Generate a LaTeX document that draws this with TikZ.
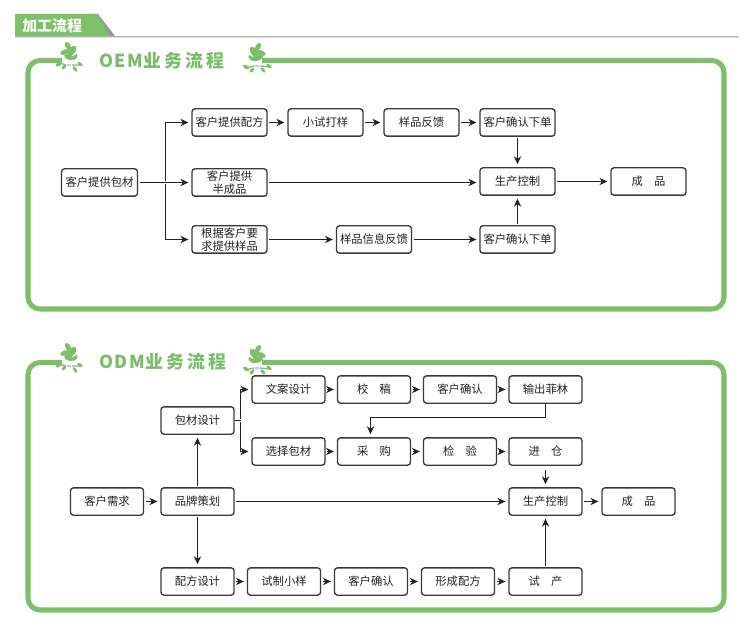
\documentclass[tikz,border=0pt]{standalone}
\usepackage{fontspec}
\setmainfont{Noto Sans CJK SC}
\usetikzlibrary{arrows.meta}
\definecolor{gr}{RGB}{125,192,105}
\definecolor{grt}{RGB}{120,190,105}
\definecolor{ink}{RGB}{35,35,35}
\tikzset{
 box/.style={draw=ink!90,line width=1pt,rounded corners=2.2pt,fill=white,minimum width=#1*0.75pt,minimum height=20.5pt,inner sep=0pt,align=center,font=\fontsize{8.5pt}{9.6pt}\selectfont,text=ink},
 box/.default=74,
 conn/.style={draw=ink,line width=0.85pt},
 arr/.style={conn,-{Stealth[length=6pt,width=5.5pt]},shorten >=2.2pt,shorten <=1pt},
 frame/.style={draw=gr,line width=3.8pt,rounded corners=9pt},
 ttl/.style={font=\fontsize{13.4pt}{14pt}\selectfont\bfseries,text=grt,inner sep=0pt},
 blob/.style={fill=gr,draw=none},
 twig/.style={draw=gr,line width=1pt},
 leaf/.pic={
  \fill[blob] (-1,-14) ellipse[x radius=4.5,y radius=2.6,rotate=-60];
  \fill[blob] (3,-9) ellipse[x radius=6,y radius=3.2,rotate=55];
  \fill[blob] (-4,-8) ellipse[x radius=5,y radius=2.6,rotate=20];
  \fill[blob] (0,-3) ellipse[x radius=5,y radius=2.8,rotate=-20];
  \fill[blob] (6,-3) ellipse[x radius=3.5,y radius=1.8,rotate=50];
  \fill[blob] (-10,4) ellipse[x radius=3.6,y radius=1.9,rotate=35];
  \fill[blob] (-5,7) ellipse[x radius=2.8,y radius=1.6,rotate=55];
  \fill[blob] (6,9) ellipse[x radius=3.2,y radius=1.6,rotate=-55];
  \fill[blob] (11,4) ellipse[x radius=3,y radius=1.6,rotate=-35];
  \draw[twig] (-12,2) -- (-3,5) (3,5) -- (13,5);
  \fill[blue!25!white] (0,5) ellipse[x radius=2.4,y radius=1];
 },
 leafm/.pic={
  \fill[blob] (1,-14) ellipse[x radius=4.5,y radius=2.6,rotate=60];
  \fill[blob] (-3,-9) ellipse[x radius=6,y radius=3.2,rotate=-55];
  \fill[blob] (4,-8) ellipse[x radius=5,y radius=2.6,rotate=-20];
  \fill[blob] (0,-3) ellipse[x radius=6,y radius=2.8,rotate=15];
  \fill[blob] (-6,-3) ellipse[x radius=3.5,y radius=1.8,rotate=-50];
  \fill[blob] (-11,6) ellipse[x radius=3.4,y radius=1.7,rotate=-30];
  \fill[blob] (-5,9) ellipse[x radius=3,y radius=1.6,rotate=50];
  \fill[blob] (6,9) ellipse[x radius=3.2,y radius=1.6,rotate=-50];
  \fill[blob] (12,5) ellipse[x radius=3,y radius=1.6,rotate=-30];
  \draw[twig] (-12,7) -- (-3,5) (3,5) -- (13,6);
  \fill[blue!25!white] (0,5) ellipse[x radius=2.4,y radius=1];
 }
}
\begin{document}
\begin{tikzpicture}[x=0.75pt,y=-0.75pt]
\useasboundingbox (0,0) rectangle (745,634);
\fill[white] (0,0) rectangle (745,634);
% header
\fill[black!30] (15,36) rectangle (739,37.5);
\fill[black!12] (15,37.5) rectangle (739,38.5);
\fill[black!40] (90,14) -- (98,14) -- (115,36) -- (100,36) -- cycle;
\fill[gr] (15,14) -- (97,14) -- (110,36) -- (15,36) -- cycle;
\node[font=\fontsize{11.2pt}{11pt}\selectfont\bfseries,text=white,inner sep=0pt,anchor=west] (h) at (22,26) {加工流程};
% frames
\draw[frame] (62,60.5) -- (28,60.5) -- (28,309) -- (724,309) -- (724,60.5) -- (262,60.5);
\draw[frame] (62,362.5) -- (28,362.5) -- (28,610) -- (724,610) -- (724,362.5) -- (262,362.5);
% titles
\pic at (69,60) {leaf};
\pic at (257,61) {leafm};
\pic at (69,361) {leaf};
\pic at (257,363) {leafm};
\node[ttl,anchor=west] (t1) at (99,60.5) {O\kern1.2pt E\kern1.2pt M业\kern2.4pt 务\kern2.4pt 流\kern2.4pt 程};
\node[ttl,anchor=west] (t2) at (99,362) {O\kern1.2pt D\kern1.2pt M业\kern2.4pt 务\kern2.4pt 流\kern2.4pt 程};
% OEM
\node[box=76] (a0) at (99.5,182.5) {客户提供包材};
\node[box=75] (a1) at (229.5,122.5) {客户提供配方};
\node[box=75] (a2) at (325.5,122.5) {小试打样};
\node[box=75] (a3) at (421.5,122.5) {样品反馈};
\node[box=75] (a4) at (517.5,122.5) {客户确认下单};
\node[box=75] (b1) at (229.5,182.5) {客户提供\\半成品};
\node[box=75] (b2) at (517.5,181.5) {生产控制};
\node[box=75] (b3) at (648.5,181.5) {成\quad 品};
\node[box=75] (c1) at (229.5,239.5) {根据客户要\\求提供样品};
\node[box=75] (c2) at (374,239.5) {样品信息反馈};
\node[box=75] (c3) at (517.5,239.5) {客户确认下单};
\coordinate (ta) at (165.5,182.5);
\draw[arr] (a0.east) -- (b1.west);
\draw[arr] (ta) |- (a1.west);
\draw[arr] (ta) |- (c1.west);
\draw[arr] (a1) -- (a2);
\draw[arr] (a2) -- (a3);
\draw[arr] (a3) -- (a4);
\draw[arr] (a4) -- (b2);
\draw[arr] (c3) -- (b2);
\draw[arr] (b1.east) -- (b1.east -| b2.west);
\draw[arr] (b2) -- (b3);
\draw[arr] (c1) -- (c2);
\draw[arr] (c2) -- (c3);
% ODM
\node[box=73] (d1) at (288.5,389.5) {文案设计};
\node[box=73] (d2) at (374,389.5) {校\quad 稿};
\node[box=73] (d3) at (460,389.5) {客户确认};
\node[box=73] (d4) at (545.5,389.5) {输出菲林};
\node[box=73] (e1) at (288.5,451.5) {选择包材};
\node[box=73] (e2) at (374,451.5) {采\quad 购};
\node[box=73] (e3) at (460,451.5) {检\quad 验};
\node[box=73] (e4) at (545.5,451.5) {进\quad 仓};
\node[box=73] (p) at (197.5,420.5) {包材设计};
\node[box=73] (f0) at (107,501.5) {客户需求};
\node[box=73] (f1) at (197.5,501.5) {品牌策划};
\node[box=73] (f2) at (545.5,501.5) {生产控制};
\node[box=73] (f3) at (638.5,501.5) {成\quad 品};
\node[box=73] (g1) at (197.5,581.5) {配方设计};
\node[box=73] (g2) at (284,581.5) {试制小样};
\node[box=73] (g3) at (371,581.5) {客户确认};
\node[box=73] (g4) at (458,581.5) {形成配方};
\node[box=73] (g5) at (545.5,581.5) {试\quad 产};
\coordinate (tp) at (240.5,420.5);
\coordinate (m) at (370.5,417.5);
\draw[conn] (p.east) -- (tp);
\draw[arr] (tp) |- (d1.west);
\draw[arr] (tp) |- (e1.west);
\draw[arr] (d1) -- (d2);
\draw[arr] (d2) -- (d3);
\draw[arr] (d3) -- (d4);
\draw[arr,shorten <=0pt] (d4.south) |- (m) -- (m |- e2.north);
\draw[arr] (e1) -- (e2);
\draw[arr] (e2) -- (e3);
\draw[arr] (e3) -- (e4);
\draw[arr,shorten <=3pt] (e4) -- (f2);
\draw[arr] (f0) -- (f1);
\draw[arr] (f1) -- (p);
\draw[arr] (f1) -- (f2);
\draw[arr] (f2) -- (f3);
\draw[arr] (f1) -- (g1);
\draw[arr] (g1) -- (g2);
\draw[arr] (g2) -- (g3);
\draw[arr] (g3) -- (g4);
\draw[arr] (g4) -- (g5);
\draw[arr] (g5) -- (f2);
\end{tikzpicture}
\end{document}
